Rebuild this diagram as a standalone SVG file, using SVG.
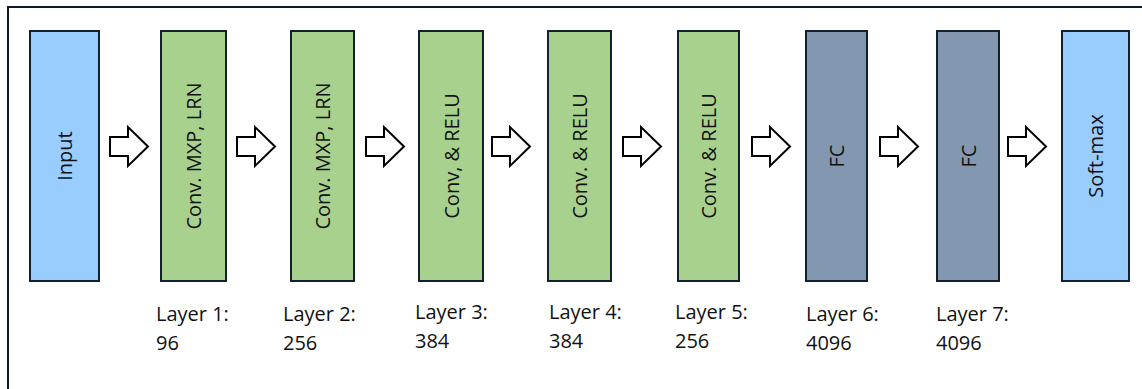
<svg xmlns="http://www.w3.org/2000/svg" width="1142" height="389" viewBox="0 0 1142 389">
  <style>
    .frame { fill: none; stroke: #0e1a26; stroke-width: 2; }
    .box { stroke: #13202d; stroke-width: 2; }
    .in { fill: #99ccff; }
    .conv { fill: #a9d18e; }
    .fc { fill: #8497b0; }
    .blabel { font-family: "Open Sans", "Noto Sans", sans-serif; font-size: 20px; fill: #111111; text-anchor: middle; dominant-baseline: central; }
    .cap { font-family: "Open Sans", "Noto Sans", sans-serif; font-size: 20px; fill: #111111; }
    .arrow { fill: #ffffff; stroke: #000000; stroke-width: 2; stroke-linejoin: miter; }
  </style>
  <defs>
    <!-- hollow block arrow, 40 wide, origin at left of shaft on the centre line -->
    <path id="blk" d="M0,-9.5 H18 V-19.5 L38,0 L18,19.5 V9.5 H0 Z"/>
  </defs>
  <rect width="1142" height="389" fill="#ffffff"/>
  <rect class="frame" x="8" y="7" width="1200" height="420"/>

  <g id="input">
    <rect class="box in" x="30" y="31" width="69" height="250"/>
    <text class="blabel" transform="translate(64.5,156) rotate(-90)">Input</text>
  </g>
  <g id="layer1">
    <rect class="box conv" x="161" y="31" width="65" height="250"/>
    <text class="blabel" transform="translate(193.5,156) rotate(-90)">Conv. MXP, LRN</text>
    <text class="cap" x="156" y="321">Layer 1:</text>
    <text class="cap" x="156" y="350">96</text>
  </g>
  <g id="layer2">
    <rect class="box conv" x="291" y="31" width="63" height="250"/>
    <text class="blabel" transform="translate(322.5,156) rotate(-90)">Conv. MXP, LRN</text>
    <text class="cap" x="283" y="321">Layer 2:</text>
    <text class="cap" x="283" y="350">256</text>
  </g>
  <g id="layer3">
    <rect class="box conv" x="419" y="31" width="64" height="250"/>
    <text class="blabel" transform="translate(451,156) rotate(-90)">Conv, &amp; RELU</text>
    <text class="cap" x="415" y="319">Layer 3:</text>
    <text class="cap" x="415" y="348">384</text>
  </g>
  <g id="layer4">
    <rect class="box conv" x="548" y="31" width="63" height="250"/>
    <text class="blabel" transform="translate(579.5,156) rotate(-90)">Conv. &amp; RELU</text>
    <text class="cap" x="549" y="319">Layer 4:</text>
    <text class="cap" x="549" y="348">384</text>
  </g>
  <g id="layer5">
    <rect class="box conv" x="678" y="31" width="61" height="250"/>
    <text class="blabel" transform="translate(708.5,156) rotate(-90)">Conv. &amp; RELU</text>
    <text class="cap" x="675" y="319">Layer 5:</text>
    <text class="cap" x="675" y="348">256</text>
  </g>
  <g id="layer6">
    <rect class="box fc" x="806" y="31" width="61" height="250"/>
    <text class="blabel" transform="translate(836.5,156) rotate(-90)">FC</text>
    <text class="cap" x="806" y="321">Layer 6:</text>
    <text class="cap" x="806" y="350">4096</text>
  </g>
  <g id="layer7">
    <rect class="box fc" x="937" y="31" width="62" height="250"/>
    <text class="blabel" transform="translate(968,156) rotate(-90)">FC</text>
    <text class="cap" x="936" y="321">Layer 7:</text>
    <text class="cap" x="936" y="350">4096</text>
  </g>
  <g id="softmax">
    <rect class="box in" x="1062" y="31" width="67" height="250"/>
    <text class="blabel" transform="translate(1095.5,156) rotate(-90)">Soft-max</text>
  </g>

  <g id="connectors">
    <use href="#blk" class="arrow" x="110" y="146.5"/>
    <use href="#blk" class="arrow" x="237" y="146.5"/>
    <use href="#blk" class="arrow" x="366" y="146.5"/>
    <use href="#blk" class="arrow" x="492" y="146.5"/>
    <use href="#blk" class="arrow" x="623" y="146.5"/>
    <use href="#blk" class="arrow" x="752" y="146.5"/>
    <use href="#blk" class="arrow" x="880" y="146.5"/>
    <use href="#blk" class="arrow" x="1008" y="146.5"/>
  </g>
</svg>
